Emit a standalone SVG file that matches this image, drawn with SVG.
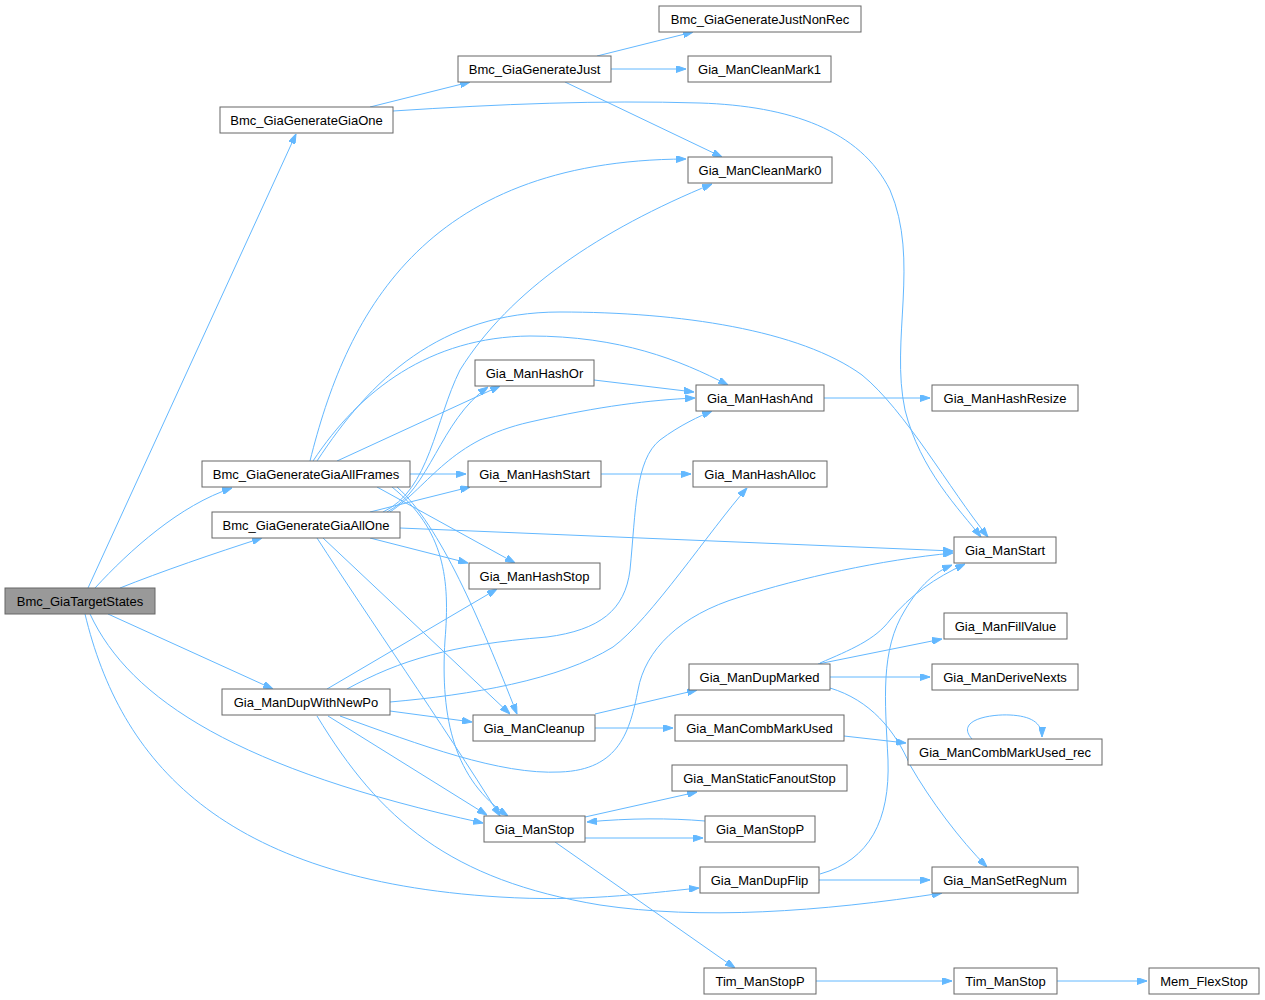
<svg xmlns="http://www.w3.org/2000/svg" width="1265" height="1000" viewBox="0 0 1265 1000">
<style>
.n rect{fill:#fff;stroke:#666;stroke-width:1}
.n.cur rect{fill:#999}
.n text{font-family:"Liberation Sans",Arial,sans-serif;font-size:13px;text-anchor:middle;fill:#000}
.e path{fill:none;stroke:#63b8ff;stroke-width:1;marker-end:url(#ah)}
</style>
<defs>
<marker id="ah" viewBox="0 0 10 7" refX="10" refY="3.5" markerWidth="10" markerHeight="7" markerUnits="userSpaceOnUse" orient="auto">
<path d="M0,0 L10,3.5 L0,7 z" fill="#63b8ff" stroke="#63b8ff"/>
</marker>
</defs>
<rect width="1265" height="1000" fill="#fff"/>
<g id="edges" class="e">
<path d="M88,588 L296,134"/>
<path d="M95,588 C130,550 180,505 232,488"/>
<path d="M120,588 C160,572 215,553 262,538"/>
<path d="M108,614 L273,689"/>
<path d="M90,614 C130,700 240,770 483,823"/>
<path d="M85,614 C120,760 220,880 500,897 C580,902 640,894 699,888"/>
<path d="M370,107 L470,82"/>
<path d="M393,111 C500,104 600,100 700,103 C790,106 860,130 890,190 C920,260 890,340 905,410 C920,470 960,510 981,537"/>
<path d="M597,56 L693,32"/>
<path d="M611,69 L686,69"/>
<path d="M565,82 L722,157"/>
<path d="M310,461 C345,320 420,160 686,159"/>
<path d="M317,461 C370,380 440,312 560,312 C680,312 800,330 862,375 C905,410 950,490 988,537"/>
<path d="M313,461 C360,390 430,337 530,336 C620,336 680,360 728,385"/>
<path d="M337,461 L500,386"/>
<path d="M410,474 L466,474"/>
<path d="M377,487 L515,563"/>
<path d="M397,487 C440,525 480,620 517,714"/>
<path d="M392,487 C445,530 450,580 445,640 C440,720 455,780 508,816"/>
<path d="M383,512 C430,490 435,420 460,370 C510,290 600,230 712,184"/>
<path d="M387,512 C430,490 440,420 488,387"/>
<path d="M390,512 C430,485 450,440 530,422 C600,406 650,400 695,398"/>
<path d="M370,512 L470,487"/>
<path d="M370,538 L468,563"/>
<path d="M400,528 L953,551"/>
<path d="M323,538 L510,714"/>
<path d="M317,538 C370,620 440,720 500,816"/>
<path d="M327,689 L497,589"/>
<path d="M347,689 C400,660 450,645 547,637 C600,630 625,610 630,570 C636,510 635,460 660,440 C680,425 700,416 712,411"/>
<path d="M390,702 C470,695 560,680 613,647 C650,620 710,530 747,488"/>
<path d="M340,716 C420,745 500,775 560,772 C620,770 630,730 638,690 C645,650 680,615 740,597 C800,578 880,560 953,553"/>
<path d="M390,711 L472,722"/>
<path d="M328,716 L487,815"/>
<path d="M317,716 C380,820 450,880 600,905 C700,920 820,912 942,893"/>
<path d="M594,380 L694,392"/>
<path d="M601,474 L691,474"/>
<path d="M824,398 L930,398"/>
<path d="M595,714 L697,690"/>
<path d="M595,728 L673,728"/>
<path d="M818,664 L942,639"/>
<path d="M830,677 L930,677"/>
<path d="M820,663 C850,650 875,640 890,620 C910,595 935,578 965,564"/>
<path d="M830,688 C870,700 895,730 910,765 C930,800 960,840 987,867"/>
<path d="M844,736 L906,743"/>
<path d="M972,739 C955,720 990,714 1010,715 C1030,716 1042,722 1042,737"/>
<path d="M585,817 L697,792"/>
<path d="M585,838 L703,838"/>
<path d="M705,821 C670,818 630,818 587,822"/>
<path d="M555,842 L735,968"/>
<path d="M820,874 C870,860 890,820 888,760 C885,700 880,650 905,610 C920,585 935,572 952,565"/>
<path d="M819,880 L930,880"/>
<path d="M816,981 L952,981"/>
<path d="M1057,981 L1147,981"/>
</g>
<g id="n_Bmc_GiaTargetStates" class="n cur"><rect x="5" y="588" width="150" height="26"/><text x="80" y="606">Bmc_GiaTargetStates</text></g>
<g id="n_Bmc_GiaGenerateGiaOne" class="n"><rect x="220" y="107" width="173" height="26"/><text x="306.5" y="125">Bmc_GiaGenerateGiaOne</text></g>
<g id="n_Bmc_GiaGenerateJust" class="n"><rect x="458" y="56" width="153" height="26"/><text x="534.5" y="74">Bmc_GiaGenerateJust</text></g>
<g id="n_Bmc_GiaGenerateJustNonRec" class="n"><rect x="659" y="6" width="202" height="26"/><text x="760" y="24">Bmc_GiaGenerateJustNonRec</text></g>
<g id="n_Gia_ManCleanMark1" class="n"><rect x="688" y="56" width="143" height="26"/><text x="759.5" y="74">Gia_ManCleanMark1</text></g>
<g id="n_Gia_ManCleanMark0" class="n"><rect x="688" y="157" width="144" height="26"/><text x="760" y="175">Gia_ManCleanMark0</text></g>
<g id="n_Bmc_GiaGenerateGiaAllFrames" class="n"><rect x="202" y="461" width="208" height="26"/><text x="306" y="479">Bmc_GiaGenerateGiaAllFrames</text></g>
<g id="n_Bmc_GiaGenerateGiaAllOne" class="n"><rect x="212" y="512" width="188" height="26"/><text x="306" y="530">Bmc_GiaGenerateGiaAllOne</text></g>
<g id="n_Gia_ManHashOr" class="n"><rect x="475" y="360" width="119" height="26"/><text x="534.5" y="378">Gia_ManHashOr</text></g>
<g id="n_Gia_ManHashStart" class="n"><rect x="468" y="461" width="133" height="26"/><text x="534.5" y="479">Gia_ManHashStart</text></g>
<g id="n_Gia_ManHashStop" class="n"><rect x="469" y="563" width="131" height="26"/><text x="534.5" y="581">Gia_ManHashStop</text></g>
<g id="n_Gia_ManHashAnd" class="n"><rect x="696" y="385" width="128" height="26"/><text x="760" y="403">Gia_ManHashAnd</text></g>
<g id="n_Gia_ManHashAlloc" class="n"><rect x="693" y="461" width="134" height="26"/><text x="760" y="479">Gia_ManHashAlloc</text></g>
<g id="n_Gia_ManHashResize" class="n"><rect x="932" y="385" width="146" height="26"/><text x="1005" y="403">Gia_ManHashResize</text></g>
<g id="n_Gia_ManStart" class="n"><rect x="954" y="537" width="102" height="26"/><text x="1005" y="555">Gia_ManStart</text></g>
<g id="n_Gia_ManDupWithNewPo" class="n"><rect x="222" y="689" width="168" height="26"/><text x="306" y="707">Gia_ManDupWithNewPo</text></g>
<g id="n_Gia_ManCleanup" class="n"><rect x="473" y="715" width="122" height="26"/><text x="534" y="733">Gia_ManCleanup</text></g>
<g id="n_Gia_ManStop" class="n"><rect x="484" y="816" width="101" height="26"/><text x="534.5" y="834">Gia_ManStop</text></g>
<g id="n_Gia_ManDupMarked" class="n"><rect x="689" y="664" width="141" height="26"/><text x="759.5" y="682">Gia_ManDupMarked</text></g>
<g id="n_Gia_ManCombMarkUsed" class="n"><rect x="675" y="715" width="169" height="26"/><text x="759.5" y="733">Gia_ManCombMarkUsed</text></g>
<g id="n_Gia_ManStaticFanoutStop" class="n"><rect x="672" y="765" width="175" height="26"/><text x="759.5" y="783">Gia_ManStaticFanoutStop</text></g>
<g id="n_Gia_ManStopP" class="n"><rect x="705" y="816" width="110" height="26"/><text x="760" y="834">Gia_ManStopP</text></g>
<g id="n_Gia_ManDupFlip" class="n"><rect x="700" y="867" width="119" height="26"/><text x="759.5" y="885">Gia_ManDupFlip</text></g>
<g id="n_Tim_ManStopP" class="n"><rect x="704" y="968" width="112" height="26"/><text x="760" y="986">Tim_ManStopP</text></g>
<g id="n_Gia_ManFillValue" class="n"><rect x="944" y="613" width="123" height="26"/><text x="1005.5" y="631">Gia_ManFillValue</text></g>
<g id="n_Gia_ManDeriveNexts" class="n"><rect x="932" y="664" width="146" height="26"/><text x="1005" y="682">Gia_ManDeriveNexts</text></g>
<g id="n_Gia_ManCombMarkUsed_rec" class="n"><rect x="908" y="739" width="194" height="26"/><text x="1005" y="757">Gia_ManCombMarkUsed_rec</text></g>
<g id="n_Gia_ManSetRegNum" class="n"><rect x="932" y="867" width="146" height="26"/><text x="1005" y="885">Gia_ManSetRegNum</text></g>
<g id="n_Tim_ManStop" class="n"><rect x="954" y="968" width="103" height="26"/><text x="1005.5" y="986">Tim_ManStop</text></g>
<g id="n_Mem_FlexStop" class="n"><rect x="1149" y="968" width="110" height="26"/><text x="1204" y="986">Mem_FlexStop</text></g>
</svg>
